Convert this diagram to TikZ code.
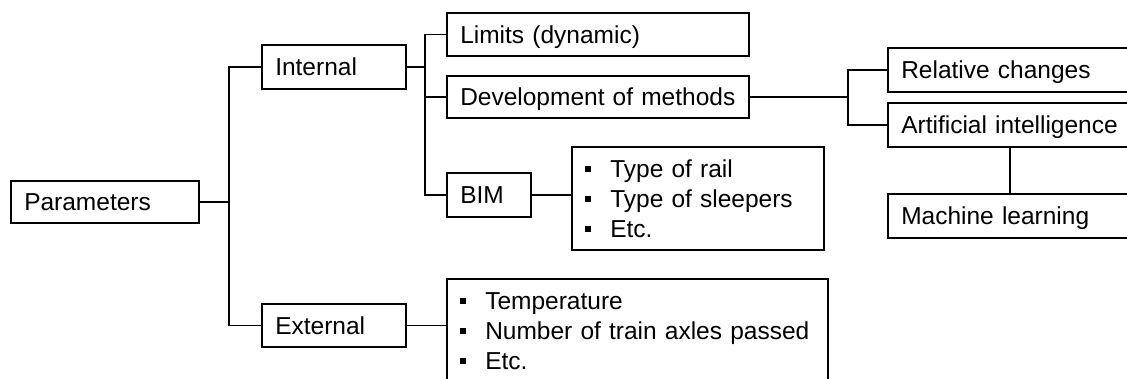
\documentclass[tikz,border=0pt]{standalone}
\usepackage{fontspec}
\setmainfont{Liberation Sans}
\newcommand\itm{\rule[5.5pt]{5.5pt}{5.5pt}\hspace{19.5pt}}
\begin{document}
\begin{tikzpicture}[x=1pt,y=-1pt,
  box/.style={draw, line width=1.5pt, inner xsep=13.5pt, inner ysep=0pt, anchor=west, align=left,
    font=\fontsize{24.5}{30}\selectfont},
  one/.style={box, text height=17.5pt, text depth=0pt},
  conn/.style={line width=1.5pt}]
\useasboundingbox (0,0) rectangle (1127,378);
\clip (0,0) rectangle (1127,378);
\node[one, text width=161pt, minimum height=42pt] (par) at (10,202) {\mbox{Parameters}};
\node[one, text width=117pt, minimum height=44pt] (int) at (261,67) {\mbox{Internal}};
\node[one, text width=117pt, minimum height=43pt] (ext) at (261,325.5) {\mbox{External}};
\node[one, text width=275pt, minimum height=43pt] (lim) at (446,34.5) {\mbox{Limits (dynamic)}};
\node[one, text width=275pt, minimum height=42pt] (dev) at (446,97) {\mbox{Development of methods}};
\node[one, text width=57pt, minimum height=44pt] (bim) at (446,195) {\mbox{BIM}};
\node[box, text width=225pt, minimum height=103pt] (bl) at (571,198.5) {\mbox{\itm Type of rail}\\ \mbox{\itm Type of sleepers}\\ \mbox{\itm Etc.}};
\node[box, text width=354pt, minimum height=104pt] (el) at (446,331) {\mbox{\itm Temperature}\\ \mbox{\itm Number of train axles passed}\\ \mbox{\itm Etc.}};
\node[one, text width=217pt, minimum height=44pt] (rel) at (887,70) {\mbox{Relative changes}};
\node[one, text width=217pt, minimum height=44pt] (ai) at (887,125) {\mbox{Artificial intelligence}};
\node[one, text width=217pt, minimum height=44pt] (ml) at (887,216) {\mbox{Machine learning}};
\coordinate (j0) at (229,202);
\coordinate (j1) at (425,67);
\coordinate (j2) at (848,97);
\draw[conn] (par.east) -- (j0) |- (int.west);
\draw[conn] (j0) |- (ext.west);
\draw[conn] (int.east) -- (j1) |- (lim.west);
\draw[conn] (j1) |- (dev.west);
\draw[conn] (j1) |- (bim.west);
\draw[conn] (bim.east) -- (bim.east -| bl.west);
\draw[conn] (ext.east) -- (ext.east -| el.west);
\draw[conn] (dev.east) -- (j2) |- (rel.west);
\draw[conn] (j2) |- (ai.west);
\draw[conn] (ai.south) -- (ml.north);
\end{tikzpicture}
\end{document}
